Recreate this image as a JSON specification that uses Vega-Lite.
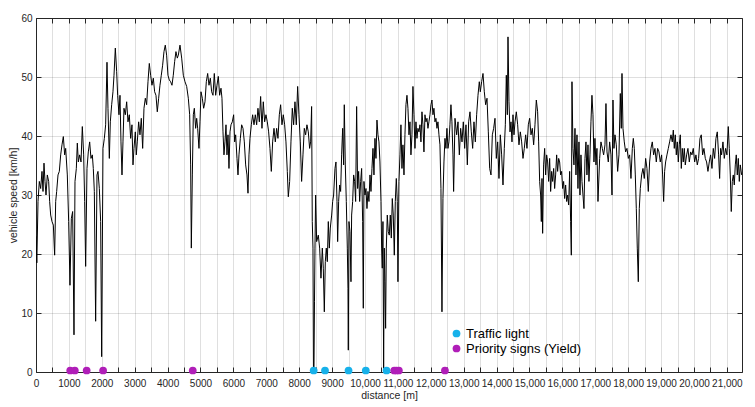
{
"$schema": "https://vega.github.io/schema/vega-lite/v6.json",
"width": 706, "height": 354,
"autosize": {"type": "none"},
"padding": {"left": 36, "top": 18, "right": 13, "bottom": 35},
"background": "white",
"config": {
  "view": {"stroke": null},
  "axis": {"domainColor": "#262626", "tickColor": "#262626", "gridColor": "#262626", "gridOpacity": 0.15, "labelFont": "Liberation Sans", "labelFontSize": 10, "labelColor": "#262626", "titleFont": "Liberation Sans", "titleFontSize": 10.5, "titleFontWeight": "normal", "titleColor": "#262626"}
},
"datasets": {
"speed": [
{"d":0,"v":23},{"d":25,"v":18.5},{"d":61,"v":28.9},{"d":101,"v":32.3},{"d":142,"v":31.1},{"d":182,"v":34},{"d":213,"v":30.6},{"d":243,"v":35.4},{"d":274,"v":32.3},{"d":304,"v":30},{"d":344,"v":33.4},{"d":385,"v":32.3},{"d":415,"v":28.9},{"d":446,"v":26.6},{"d":486,"v":25.5},{"d":527,"v":24.9},{"d":567,"v":19.8},{"d":598,"v":28.9},{"d":628,"v":30.6},{"d":669,"v":33.4},{"d":709,"v":34},{"d":750,"v":36.8},{"d":790,"v":38.5},{"d":831,"v":39.9},{"d":871,"v":36.8},{"d":902,"v":37.9},{"d":952,"v":33.4},{"d":993,"v":25.5},{"d":1033,"v":14.7},{"d":1074,"v":26},{"d":1114,"v":27.2},{"d":1155,"v":6.3},{"d":1185,"v":32.3},{"d":1226,"v":34.5},{"d":1256,"v":38.8},{"d":1287,"v":35.6},{"d":1327,"v":36.8},{"d":1368,"v":35.6},{"d":1408,"v":41.6},{"d":1449,"v":36.8},{"d":1479,"v":28.9},{"d":1509,"v":17.9},{"d":1550,"v":34.5},{"d":1590,"v":37.3},{"d":1631,"v":39},{"d":1671,"v":36.2},{"d":1712,"v":36.8},{"d":1742,"v":34.5},{"d":1773,"v":30.6},{"d":1813,"v":8.6},{"d":1854,"v":33.4},{"d":1884,"v":34},{"d":1925,"v":31.1},{"d":1965,"v":25.5},{"d":1996,"v":2.6},{"d":2036,"v":37.9},{"d":2077,"v":39.6},{"d":2117,"v":41.9},{"d":2158,"v":52.5},{"d":2188,"v":44.7},{"d":2229,"v":36.2},{"d":2259,"v":42.4},{"d":2300,"v":45.3},{"d":2340,"v":47.5},{"d":2371,"v":50.3},{"d":2411,"v":54.9},{"d":2452,"v":50.9},{"d":2482,"v":46.9},{"d":2522,"v":43.6},{"d":2553,"v":46.9},{"d":2583,"v":39},{"d":2614,"v":33.4},{"d":2644,"v":39},{"d":2674,"v":44.7},{"d":2715,"v":43.6},{"d":2756,"v":45.8},{"d":2796,"v":42.4},{"d":2836,"v":43.6},{"d":2877,"v":39.6},{"d":2917,"v":41.9},{"d":2948,"v":35.1},{"d":2978,"v":37.9},{"d":3019,"v":40.7},{"d":3049,"v":36.8},{"d":3079,"v":39},{"d":3120,"v":42.4},{"d":3160,"v":40.2},{"d":3201,"v":43},{"d":3242,"v":37.9},{"d":3282,"v":44.7},{"d":3323,"v":46.4},{"d":3363,"v":45.3},{"d":3404,"v":49.2},{"d":3444,"v":52.3},{"d":3485,"v":50.3},{"d":3525,"v":48.6},{"d":3566,"v":49.8},{"d":3606,"v":47.5},{"d":3647,"v":46.9},{"d":3687,"v":44.1},{"d":3728,"v":46.4},{"d":3768,"v":48.6},{"d":3809,"v":50.3},{"d":3849,"v":52},{"d":3890,"v":54.3},{"d":3930,"v":55.4},{"d":3971,"v":53.7},{"d":4011,"v":50.3},{"d":4052,"v":49.5},{"d":4092,"v":49.2},{"d":4133,"v":48.6},{"d":4173,"v":50.3},{"d":4214,"v":52.6},{"d":4254,"v":54.3},{"d":4295,"v":53.2},
{"d":4326,"v":53.7},{"d":4377,"v":55.4},{"d":4428,"v":53.2},{"d":4478,"v":50.3},{"d":4529,"v":49.2},{"d":4580,"v":48.4},{"d":4630,"v":46.4},{"d":4671,"v":43.6},{"d":4701,"v":35.1},{"d":4721,"v":21},{"d":4752,"v":33.4},{"d":4782,"v":43.6},{"d":4813,"v":44.7},{"d":4853,"v":41.3},{"d":4884,"v":43},{"d":4914,"v":41.3},{"d":4954,"v":37.9},{"d":4985,"v":42.4},{"d":5015,"v":47.5},{"d":5056,"v":46.4},{"d":5096,"v":44.7},{"d":5137,"v":45.8},{"d":5177,"v":49.2},{"d":5218,"v":50.6},{"d":5258,"v":48.6},{"d":5299,"v":49.8},{"d":5339,"v":47.5},{"d":5380,"v":46.9},{"d":5420,"v":50.6},{"d":5461,"v":46.9},{"d":5501,"v":48.6},{"d":5542,"v":50.1},{"d":5582,"v":46.9},{"d":5623,"v":48.1},{"d":5653,"v":46.4},{"d":5684,"v":40.7},{"d":5714,"v":36.8},{"d":5744,"v":39},{"d":5775,"v":41.9},{"d":5805,"v":36.8},{"d":5836,"v":40.2},{"d":5866,"v":34.5},{"d":5897,"v":40.7},{"d":5927,"v":41.9},{"d":5967,"v":42.4},{"d":6008,"v":43.6},{"d":6038,"v":39},{"d":6069,"v":40.2},{"d":6109,"v":36.2},{"d":6140,"v":33.4},{"d":6170,"v":36.8},{"d":6211,"v":39.6},{"d":6251,"v":41.9},{"d":6292,"v":41.3},{"d":6332,"v":39},{"d":6373,"v":35.1},{"d":6413,"v":33.4},{"d":6444,"v":30.3},{"d":6474,"v":36.8},{"d":6504,"v":39.6},{"d":6545,"v":41.9},{"d":6585,"v":43.6},{"d":6626,"v":41.9},{"d":6666,"v":43.6},{"d":6707,"v":41.9},{"d":6747,"v":44.7},{"d":6788,"v":42.4},{"d":6828,"v":46.7},{"d":6869,"v":41.3},{"d":6909,"v":45.8},{"d":6950,"v":42.4},{"d":6990,"v":43.6},{"d":7031,"v":42.4},{"d":7071,"v":40.7},{"d":7112,"v":37.9},{"d":7153,"v":34},{"d":7193,"v":39},{"d":7234,"v":41.3},{"d":7274,"v":39},{"d":7315,"v":41.3},{"d":7355,"v":39.6},{"d":7396,"v":43.6},{"d":7436,"v":45.3},{"d":7477,"v":41.9},{"d":7517,"v":43.6},{"d":7558,"v":41.9},{"d":7598,"v":39},{"d":7639,"v":34},{"d":7669,"v":29.7},{"d":7710,"v":32.3},{"d":7750,"v":39},{"d":7791,"v":44.7},{"d":7831,"v":41.9},{"d":7872,"v":45.8},{"d":7912,"v":41.9},{"d":7953,"v":48.4},{"d":7993,"v":43.6},{"d":8034,"v":39},{"d":8074,"v":32.3},{"d":8115,"v":36.8},{"d":8155,"v":41.3},{"d":8196,"v":40.2},{"d":8236,"v":41.9},{"d":8277,"v":40.7},{"d":8317,"v":37.9},{"d":8348,"v":39},{"d":8378,"v":45},{"d":8398,"v":25.5},{"d":8419,"v":21},{"d":8434,"v":0.3},{"d":8449,"v":0.3},{"d":8465,"v":12},{"d":8480,"v":21},{"d":8500,"v":30},
{"d":8531,"v":22.1},{"d":8581,"v":23.2},{"d":8622,"v":21},{"d":8662,"v":15.9},{"d":8703,"v":21},{"d":8733,"v":17.6},{"d":8764,"v":10.2},{"d":8794,"v":18.7},{"d":8824,"v":21},{"d":8855,"v":18.7},{"d":8885,"v":25.5},{"d":8916,"v":21},{"d":8946,"v":24.4},{"d":8987,"v":26.6},{"d":9017,"v":28.9},{"d":9047,"v":30},{"d":9088,"v":34.5},{"d":9118,"v":35.6},{"d":9149,"v":28.9},{"d":9169,"v":22.1},{"d":9199,"v":28.9},{"d":9230,"v":31.7},{"d":9260,"v":30.6},{"d":9290,"v":36.8},{"d":9321,"v":41.3},{"d":9351,"v":35.1},{"d":9371,"v":45.3},{"d":9402,"v":35.1},{"d":9432,"v":28.9},{"d":9463,"v":21},{"d":9483,"v":14.2},{"d":9493,"v":3.7},{"d":9513,"v":25.5},{"d":9544,"v":23.8},{"d":9574,"v":15.3},{"d":9594,"v":26.6},{"d":9625,"v":28.9},{"d":9655,"v":33.4},{"d":9686,"v":32.3},{"d":9716,"v":28.9},{"d":9746,"v":45},{"d":9777,"v":31.1},{"d":9807,"v":34},{"d":9838,"v":28.9},{"d":9868,"v":32.3},{"d":9898,"v":34.5},{"d":9929,"v":25.5},{"d":9949,"v":10.8},{"d":9969,"v":32.3},{"d":10000,"v":30},{"d":10030,"v":31.1},{"d":10060,"v":27.7},{"d":10091,"v":30.6},{"d":10121,"v":28.9},{"d":10152,"v":33.4},{"d":10182,"v":30.6},{"d":10212,"v":34.5},{"d":10243,"v":37.9},{"d":10273,"v":33.4},{"d":10303,"v":39.6},{"d":10334,"v":36.2},{"d":10364,"v":42.7},{"d":10395,"v":40.2},{"d":10425,"v":39},{"d":10455,"v":35.6},{"d":10486,"v":28.9},{"d":10506,"v":21},{"d":10526,"v":17.6},{"d":10546,"v":25.5},{"d":10567,"v":0.6},{"d":10587,"v":21},{"d":10607,"v":15.3},{"d":10627,"v":7.4},{"d":10648,"v":21},{"d":10678,"v":26.6},{"d":10708,"v":23.8},{"d":10739,"v":23.2},{"d":10769,"v":26.6},{"d":10800,"v":22.7},{"d":10830,"v":29.4},{"d":10860,"v":26.6},{"d":10891,"v":19.8},{"d":10921,"v":28.9},{"d":10952,"v":32.8},{"d":10982,"v":28.9},{"d":11002,"v":15.3},{"d":11033,"v":32.3},{"d":11063,"v":36.8},{"d":11093,"v":41.9},{"d":11124,"v":34.5},{"d":11154,"v":38.5},{"d":11185,"v":33.4},{"d":11215,"v":40.2},{"d":11245,"v":45.3},{"d":11276,"v":46.9},{"d":11306,"v":44.7},{"d":11337,"v":40.2},{"d":11367,"v":42.4},{"d":11397,"v":36.8},{"d":11428,"v":40.2},{"d":11458,"v":48.4},{"d":11489,"v":43.6},{"d":11519,"v":37.9},{"d":11549,"v":42.4},{"d":11580,"v":39.6},{"d":11610,"v":41.3},{"d":11641,"v":40.7},{"d":11671,"v":41.9},{"d":11701,"v":39},{"d":11732,"v":44.1},{"d":11762,"v":41.9},{"d":11792,"v":37.3},{"d":11823,"v":43.6},{"d":11853,"v":42.4},{"d":11884,"v":43},{"d":11914,"v":41.3},{"d":11944,"v":42.4},{"d":11975,"v":43.6},{"d":12005,"v":45.3},{"d":12036,"v":46.1},{"d":12066,"v":43.6},{"d":12096,"v":44.7},{"d":12127,"v":42.4},{"d":12157,"v":43},{"d":12188,"v":41.3},{"d":12218,"v":42.4},{"d":12248,"v":40.2},{"d":12279,"v":38.5},{"d":12309,"v":31.1},{"d":12340,"v":10.2},{"d":12370,"v":29.4},{"d":12400,"v":35.6},{"d":12431,"v":39.6},{"d":12461,"v":37.9},{"d":12491,"v":41.3},{"d":12522,"v":37.9},{"d":12552,"v":39},{"d":12582,"v":41.9},{"d":12613,"v":45.3},{"d":12643,"v":42.4},{"d":12674,"v":36.8},{"d":12694,"v":30.6},
{"d":12736,"v":43},{"d":12787,"v":40.2},{"d":12827,"v":42.4},{"d":12868,"v":36.8},{"d":12908,"v":41.3},{"d":12949,"v":39},{"d":12989,"v":42.4},{"d":13030,"v":37.9},{"d":13070,"v":41.9},{"d":13111,"v":35.1},{"d":13151,"v":42.4},{"d":13192,"v":44.1},{"d":13232,"v":40.7},{"d":13273,"v":37.9},{"d":13313,"v":42.4},{"d":13354,"v":39},{"d":13394,"v":43.6},{"d":13435,"v":46.9},{"d":13475,"v":49.2},{"d":13506,"v":47.5},{"d":13546,"v":49.2},{"d":13587,"v":50.6},{"d":13627,"v":47.5},{"d":13668,"v":45.3},{"d":13709,"v":46.4},{"d":13749,"v":40.7},{"d":13790,"v":34.5},{"d":13830,"v":33.4},{"d":13871,"v":40.2},{"d":13911,"v":41.3},{"d":13952,"v":43},{"d":13992,"v":36.2},{"d":14033,"v":39},{"d":14073,"v":32.8},{"d":14114,"v":40.2},{"d":14154,"v":36.8},{"d":14195,"v":31.7},{"d":14235,"v":37.9},{"d":14266,"v":41.9},{"d":14296,"v":50.3},{"d":14327,"v":43.6},{"d":14347,"v":56.8},{"d":14377,"v":45.8},{"d":14408,"v":40.7},{"d":14438,"v":42.4},{"d":14468,"v":39},{"d":14499,"v":43.6},{"d":14529,"v":40.2},{"d":14560,"v":42.4},{"d":14600,"v":44.1},{"d":14641,"v":41.9},{"d":14681,"v":38.5},{"d":14722,"v":40.7},{"d":14762,"v":39},{"d":14803,"v":36.2},{"d":14843,"v":37.9},{"d":14884,"v":40.2},{"d":14924,"v":37.9},{"d":14965,"v":41.9},{"d":15005,"v":43},{"d":15046,"v":40.2},{"d":15086,"v":41.3},{"d":15127,"v":38.5},{"d":15167,"v":41.9},{"d":15208,"v":46.1},{"d":15248,"v":44.1},{"d":15279,"v":39},{"d":15309,"v":32.3},{"d":15339,"v":30},{"d":15360,"v":25.5},{"d":15380,"v":32.8},{"d":15400,"v":23.5},{"d":15430,"v":35.1},{"d":15461,"v":37.9},{"d":15491,"v":33.4},{"d":15522,"v":36.8},{"d":15552,"v":35.6},{"d":15583,"v":32.3},{"d":15613,"v":36.2},{"d":15643,"v":30.6},{"d":15674,"v":34},{"d":15704,"v":32.3},{"d":15735,"v":34.5},{"d":15765,"v":31.1},{"d":15795,"v":33.4},{"d":15826,"v":36.8},{"d":15856,"v":34},{"d":15887,"v":36.2},{"d":15917,"v":35.6},{"d":15947,"v":33.4},{"d":15978,"v":34},{"d":16008,"v":31.1},{"d":16038,"v":32.3},{"d":16069,"v":29.4},{"d":16099,"v":31.7},{"d":16130,"v":28.9},{"d":16160,"v":30},{"d":16190,"v":28.3},{"d":16221,"v":34},{"d":16251,"v":25.5},{"d":16272,"v":19.8},{"d":16292,"v":49.2},{"d":16322,"v":37.9},{"d":16352,"v":35.1},{"d":16383,"v":41.3},{"d":16413,"v":33.4},{"d":16444,"v":40.2},{"d":16474,"v":31.1},{"d":16504,"v":39},{"d":16535,"v":30},{"d":16565,"v":36.8},{"d":16596,"v":32.3},{"d":16626,"v":30},{"d":16656,"v":27.7},{"d":16687,"v":36.2},{"d":16717,"v":39},{"d":16747,"v":33.4},{"d":16778,"v":38.5},{"d":16808,"v":32.3},{"d":16839,"v":36.8},{"d":16869,"v":42.4},{"d":16899,"v":46.9},{"d":16930,"v":43.6},{"d":16960,"v":35.6},{"d":16990,"v":39.6},{"d":17021,"v":35.1},{"d":17051,"v":37.9},{"d":17082,"v":28.9},
{"d":17133,"v":36.2},{"d":17173,"v":39},{"d":17214,"v":37.9},{"d":17254,"v":36.8},{"d":17295,"v":38.5},{"d":17325,"v":45.5},{"d":17356,"v":37.3},{"d":17396,"v":35.6},{"d":17437,"v":39},{"d":17477,"v":36.8},{"d":17508,"v":30},{"d":17538,"v":46.1},{"d":17568,"v":37.9},{"d":17599,"v":40.2},{"d":17639,"v":38.5},{"d":17680,"v":34},{"d":17720,"v":36.8},{"d":17761,"v":47.2},{"d":17791,"v":41.3},{"d":17812,"v":50.6},{"d":17842,"v":41.3},{"d":17882,"v":39},{"d":17923,"v":37.3},{"d":17963,"v":37.9},{"d":18004,"v":36.2},{"d":18044,"v":36.8},{"d":18085,"v":32.8},{"d":18126,"v":37.9},{"d":18156,"v":39.6},{"d":18186,"v":37.9},{"d":18217,"v":33.4},{"d":18247,"v":27.7},{"d":18277,"v":21},{"d":18308,"v":15.3},{"d":18338,"v":27.7},{"d":18369,"v":31.1},{"d":18409,"v":33.4},{"d":18450,"v":34.5},{"d":18490,"v":32.8},{"d":18531,"v":36.2},{"d":18571,"v":34.5},{"d":18612,"v":30.6},{"d":18652,"v":35.6},{"d":18693,"v":37.9},{"d":18733,"v":39},{"d":18774,"v":36.8},{"d":18814,"v":37.9},{"d":18855,"v":35.6},{"d":18895,"v":37.9},{"d":18936,"v":37.3},{"d":18976,"v":35.6},{"d":19017,"v":36.8},{"d":19047,"v":33.4},{"d":19078,"v":28.9},{"d":19108,"v":34},{"d":19138,"v":35.6},{"d":19179,"v":36.8},{"d":19220,"v":37.9},{"d":19260,"v":39},{"d":19301,"v":40.2},{"d":19341,"v":39},{"d":19372,"v":41},{"d":19402,"v":37.9},{"d":19432,"v":40.2},{"d":19463,"v":36.8},{"d":19493,"v":39},{"d":19524,"v":35.6},{"d":19554,"v":38.5},{"d":19584,"v":40.2},{"d":19615,"v":34.5},{"d":19645,"v":37.9},{"d":19675,"v":35.6},{"d":19706,"v":37.9},{"d":19736,"v":35.1},{"d":19777,"v":36.8},{"d":19817,"v":37.9},{"d":19858,"v":35.6},{"d":19898,"v":37.3},{"d":19939,"v":36.8},{"d":19979,"v":37.9},{"d":20020,"v":35.6},{"d":20060,"v":36.8},{"d":20101,"v":35.1},{"d":20141,"v":36.2},{"d":20182,"v":39.6},{"d":20222,"v":40.2},{"d":20263,"v":36.8},{"d":20303,"v":37.9},{"d":20344,"v":36.2},{"d":20384,"v":35.6},{"d":20425,"v":34},{"d":20465,"v":35.6},{"d":20506,"v":36.8},{"d":20547,"v":34.5},{"d":20587,"v":37.9},{"d":20628,"v":36.2},{"d":20668,"v":39.6},{"d":20709,"v":40.7},{"d":20749,"v":36.8},{"d":20780,"v":32.8},{"d":20810,"v":37.9},{"d":20840,"v":36.8},{"d":20881,"v":39},{"d":20921,"v":36.2},{"d":20962,"v":37.9},{"d":21002,"v":36.8},{"d":21043,"v":41.6},{"d":21073,"v":37.9},{"d":21104,"v":33.4},{"d":21134,"v":27.2},{"d":21165,"v":32.3},{"d":21195,"v":33.4},{"d":21226,"v":31.7},{"d":21256,"v":35.1},{"d":21286,"v":36.8},{"d":21317,"v":33.4},{"d":21347,"v":36.2},{"d":21378,"v":32.3},{"d":21408,"v":35.1},{"d":21449,"v":33.4}
],
"signs": [
{"d":8440,"v":0,"type":"Traffic light"},{"d":8785,"v":0,"type":"Traffic light"},{"d":9500,"v":0,"type":"Traffic light"},{"d":10025,"v":0,"type":"Traffic light"},{"d":10655,"v":0,"type":"Traffic light"},
{"d":1040,"v":0,"type":"Priority signs (Yield)"},{"d":1180,"v":0,"type":"Priority signs (Yield)"},{"d":1540,"v":0,"type":"Priority signs (Yield)"},{"d":2040,"v":0,"type":"Priority signs (Yield)"},{"d":4765,"v":0,"type":"Priority signs (Yield)"},{"d":10890,"v":0,"type":"Priority signs (Yield)"},{"d":10955,"v":0,"type":"Priority signs (Yield)"},{"d":11030,"v":0,"type":"Priority signs (Yield)"},{"d":12430,"v":0,"type":"Priority signs (Yield)"}
]
},
"layer": [
{
  "data": {"name": "speed"},
  "mark": {"type": "line", "color": "#000000", "strokeWidth": 1, "clip": true},
  "encoding": {
    "x": {"field": "d", "type": "quantitative", "scale": {"domain": [0, 21460], "nice": false, "zero": false},
      "axis": {"orient": "bottom", "title": "distance [m]", "values": [0,500,1000,1500,2000,2500,3000,3500,4000,4500,5000,5500,6000,6500,7000,7500,8000,8500,9000,9500,10000,10500,11000,11500,12000,12500,13000,13500,14000,14500,15000,15500,16000,16500,17000,17500,18000,18500,19000,19500,20000,20500,21000],
        "labelExpr": "datum.value % 1000 == 0 ? (datum.value >= 10000 ? format(datum.value, ',') : format(datum.value, 'd')) : ''",
        "labelOverlap": false, "labelFlush": false, "tickSize": -5, "labelPadding": 11, "grid": true, "titlePadding": 2}},
    "y": {"field": "v", "type": "quantitative", "scale": {"domain": [0, 60], "nice": false},
      "axis": {"orient": "left", "title": "vehicle speed [km/h]", "values": [0,10,20,30,40,50,60], "tickSize": -5, "labelPadding": 9, "grid": true, "titlePadding": 2}}
  }
},
{
  "data": {"name": "signs"},
  "mark": {"type": "circle", "size": 60, "opacity": 1, "yOffset": -1.5, "clip": false},
  "encoding": {
    "x": {"field": "d", "type": "quantitative",
      "axis": {"orient": "top", "title": null, "labels": false, "grid": false, "tickSize": -5, "values": [0,500,1000,1500,2000,2500,3000,3500,4000,4500,5000,5500,6000,6500,7000,7500,8000,8500,9000,9500,10000,10500,11000,11500,12000,12500,13000,13500,14000,14500,15000,15500,16000,16500,17000,17500,18000,18500,19000,19500,20000,20500,21000]}},
    "y": {"field": "v", "type": "quantitative",
      "axis": {"orient": "right", "title": null, "labels": false, "grid": false, "tickSize": -5, "values": [0,10,20,30,40,50,60]}},
    "color": {"field": "type", "type": "nominal",
      "scale": {"domain": ["Traffic light", "Priority signs (Yield)"], "range": ["#17b1ea", "#b01eb8"]},
      "legend": {"orient": "none", "legendX": 414, "legendY": 309, "title": null, "symbolType": "circle", "symbolSize": 60, "symbolStrokeWidth": 0, "symbolOpacity": 1, "labelFontSize": 13, "labelFont": "Liberation Sans", "labelColor": "#000000", "labelOffset": 3, "rowPadding": 1, "padding": 0}}
  }
}
]
}
